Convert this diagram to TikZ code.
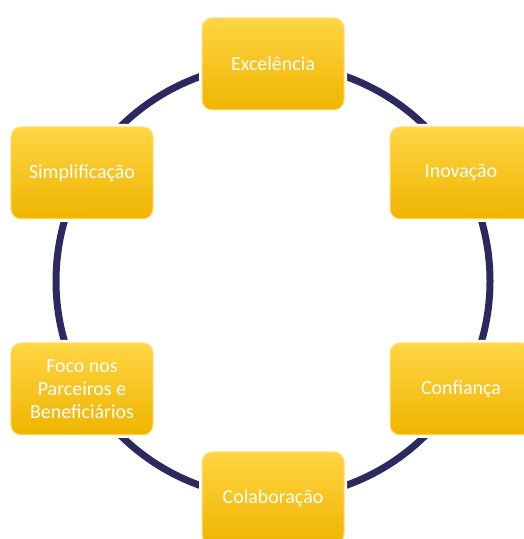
\documentclass[tikz,border=0pt]{standalone}
\usepackage{fontspec}
\setmainfont{Carlito}
\definecolor{boxtop}{HTML}{FFD544}
\definecolor{boxmid}{HTML}{FFC61A}
\definecolor{boxbot}{HTML}{EFB500}
\definecolor{boxrim}{HTML}{FFE27A}
\definecolor{ringblue}{HTML}{2C2960}
\tikzset{
  value/.style={rounded corners=10bp, minimum width=142bp, minimum height=92bp,
    preaction={draw=white, line width=6bp},
    draw=boxrim, line width=1bp, top color=boxtop, middle color=boxmid,
    bottom color=boxbot, text=white, align=center,
    font=\fontsize{20}{23}\selectfont},
  ring/.style={draw=ringblue, line width=7bp}
}
\begin{document}
\begin{tikzpicture}[x=1bp,y=1bp]
    \useasboundingbox (0,0) rectangle (524,539);
    \clip (0,0) rectangle (524,539);
    % the ring behind the values
    \coordinate (mid) at (273,258);
    \draw[ring] (mid) circle (217bp);
    % six values round the ring
    \node[value] (exc) at (273,475) {Excelência};
    \node[value] (ino) at (461,366) {Inovação};
    \node[value] (con) at (461,150) {Confiança};
    \node[value] (col) at (273,41) {Colaboração};
    \node[value] (foc) at (82,150) {Foco nos\\Parceiros e\\Beneficiários};
    \node[value] (sim) at (82,366) {Simplificação};
\end{tikzpicture}
\end{document}
